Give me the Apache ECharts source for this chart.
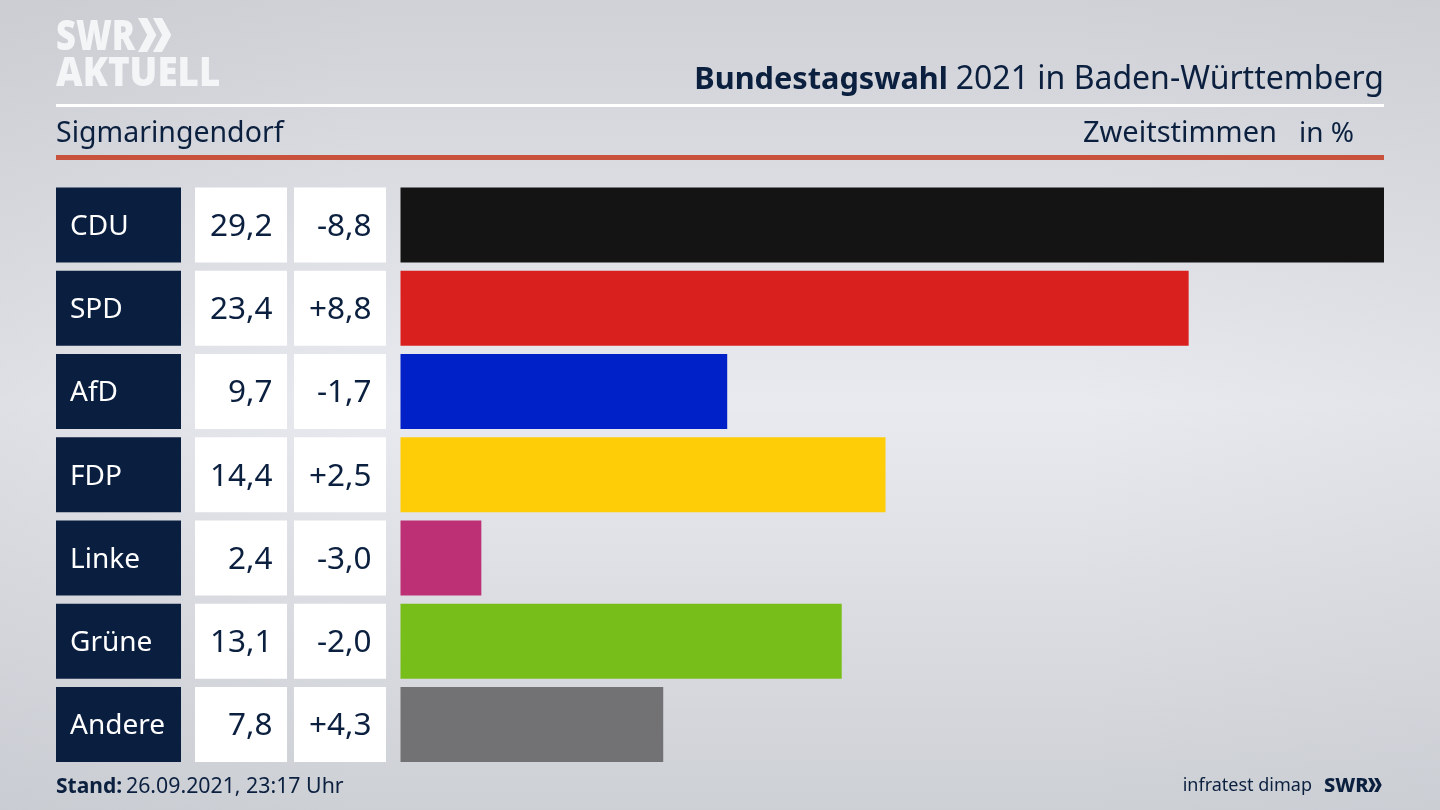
<!DOCTYPE html>
<html>
<head>
<meta charset="utf-8">
<title>Bundestagswahl 2021</title>
<style>
  html, body { margin: 0; padding: 0; background: #d8dae0; }
  #chart { width: 1440px; height: 810px; }
</style>
<script src="https://cdn.jsdelivr.net/npm/echarts@6/dist/echarts.min.js"></script>
</head>
<body>
<div id="chart"></div>
<script>
const parties = ["CDU", "SPD", "AfD", "FDP", "Linke", "Grüne", "Andere"];
const votes = [29.2, 23.4, 9.7, 14.4, 2.4, 13.1, 7.8];
const changes = [-8.8, 8.8, -1.7, 2.5, -3.0, -2.0, 4.3];
const partyColors = ["#141414", "#da201f", "#0021c8", "#ffcc08", "#bd3075", "#78be1a", "#727274"];

const NAVY = "#0b1f3f";
const FONT = '"Noto Sans", sans-serif';

const formatVote = (v) => v.toFixed(1).replace(".", ",");
const formatChange = (v) => (v > 0 ? "+" : "") + formatVote(v);

// cell column next to the bars, row position comes from the category axis
function cellSeries(left, width, fill, color, labels, align, textX, size) {
  return {
    type: "custom",
    coordinateSystem: "cartesian2d",
    clip: false,
    silent: true,
    data: parties.map((p, i) => [0, i]),
    encode: { x: 0, y: 1 },
    renderItem(params, api) {
      const y = api.coord([0, api.value(1)])[1];
      return {
        type: "group",
        children: [
          { type: "rect", shape: { x: left, y: y - 37.5, width, height: 75 }, style: { fill } },
          {
            type: "text",
            style: {
              x: textX,
              y: y + 2,
              text: labels[params.dataIndex],
              fill: color,
              font: `400 ${size}px ${FONT}`,
              align,
              verticalAlign: "middle"
            }
          }
        ]
      };
    }
  };
}

function label(text, x, y, size, opts = {}) {
  return {
    type: "text",
    x,
    y,
    scaleX: opts.scaleX || 1,
    scaleY: opts.scaleY || 1,
    style: {
      text,
      fill: opts.color || NAVY,
      font: `${opts.weight || 400} ${size}px ${FONT}`,
      align: opts.align || "left",
      verticalAlign: "middle"
    }
  };
}

function chevrons(x, y, h, fill) {
  return [0, 0.44].map((k) => {
    const left = x + k * h;
    return {
      type: "polygon",
      shape: {
        points: [
          [left, y], [left + h * 0.27, y], [left + h * 0.54, y + h / 2],
          [left + h * 0.27, y + h], [left, y + h], [left + h * 0.27, y + h / 2]
        ]
      },
      style: { fill }
    };
  });
}

const chart = echarts.init(document.getElementById("chart"));

chart.setOption({
  animation: false,
  backgroundColor: new echarts.graphic.LinearGradient(0, 0, 0, 1, [
    { offset: 0, color: "#cfd1d6" },
    { offset: 0.5, color: "#e9eaef" },
    { offset: 1, color: "#cdd0d5" }
  ]),
  title: {
    right: 56,
    top: 64,
    padding: 0,
    text: "{b|Bundestagswahl} {r|2021 in Baden-Württemberg}",
    textStyle: {
      fontFamily: FONT,
      fontSize: 30,
      color: NAVY,
      rich: {
        b: { fontFamily: FONT, fontWeight: 700, fontSize: 30.7, color: NAVY },
        r: { fontFamily: FONT, fontWeight: 400, fontSize: 32, color: NAVY }
      }
    }
  },
  grid: { left: 400.5, width: 983.5, top: 183.4, height: 582.75 },
  xAxis: { type: "value", min: 0, max: 29.2, show: false },
  yAxis: { type: "category", data: parties, inverse: true, show: false },
  series: [
    {
      type: "bar",
      barWidth: 75,
      silent: true,
      data: votes.map((v, i) => ({ value: v, itemStyle: { color: partyColors[i] } }))
    },
    cellSeries(56, 125, "#0a1f3f", "#ffffff", parties, "left", 70, 28),
    cellSeries(195, 92, "#ffffff", NAVY, votes.map(formatVote), "right", 272.5, 31.5),
    cellSeries(294, 92, "#ffffff", NAVY, changes.map(formatChange), "right", 371.5, 31.5)
  ],
  graphic: [
    { type: "rect", shape: { x: 0, y: 0, width: 1440, height: 810 }, z: -10,
      style: { fill: new echarts.graphic.LinearGradient(0, 0, 1, 0, [
        { offset: 0, color: "rgba(190,193,200,0.25)" },
        { offset: 0.25, color: "rgba(190,193,200,0)" },
        { offset: 0.75, color: "rgba(190,193,200,0)" },
        { offset: 1, color: "rgba(190,193,200,0.15)" }
      ]) } },
    { type: "rect", shape: { x: 56, y: 104, width: 1328, height: 3 }, style: { fill: "#ffffff" } },
    { type: "rect", shape: { x: 56, y: 155, width: 1328, height: 5 }, style: { fill: "#c9523c" } },
    label("SWR", 56, 38, 36, { color: "#f4f5f7", weight: 900, scaleX: 0.96, scaleY: 1.2 }),
    label("AKTUELL", 56, 75, 36, { color: "#f4f5f7", weight: 900, scaleX: 1.02, scaleY: 1.12 }),
    ...chevrons(138, 18, 34, "#f4f5f7"),
    label("Sigmaringendorf", 56, 134, 28.5),
    label("Zweitstimmen", 1277, 134, 29, { align: "right" }),
    label("in %", 1354, 134, 28, { align: "right" }),
    label("Stand:", 56, 787, 21, { weight: 700 }),
    label("26.09.2021, 23:17 Uhr", 126, 787, 21.3),
    label("infratest dimap", 1312, 786, 18, { align: "right" }),
    label("SWR", 1324, 786, 20, { weight: 800 }),
    ...chevrons(1368, 778, 14, NAVY)
  ]
});

window.addEventListener("resize", () => chart.resize());
</script>
</body>
</html>
